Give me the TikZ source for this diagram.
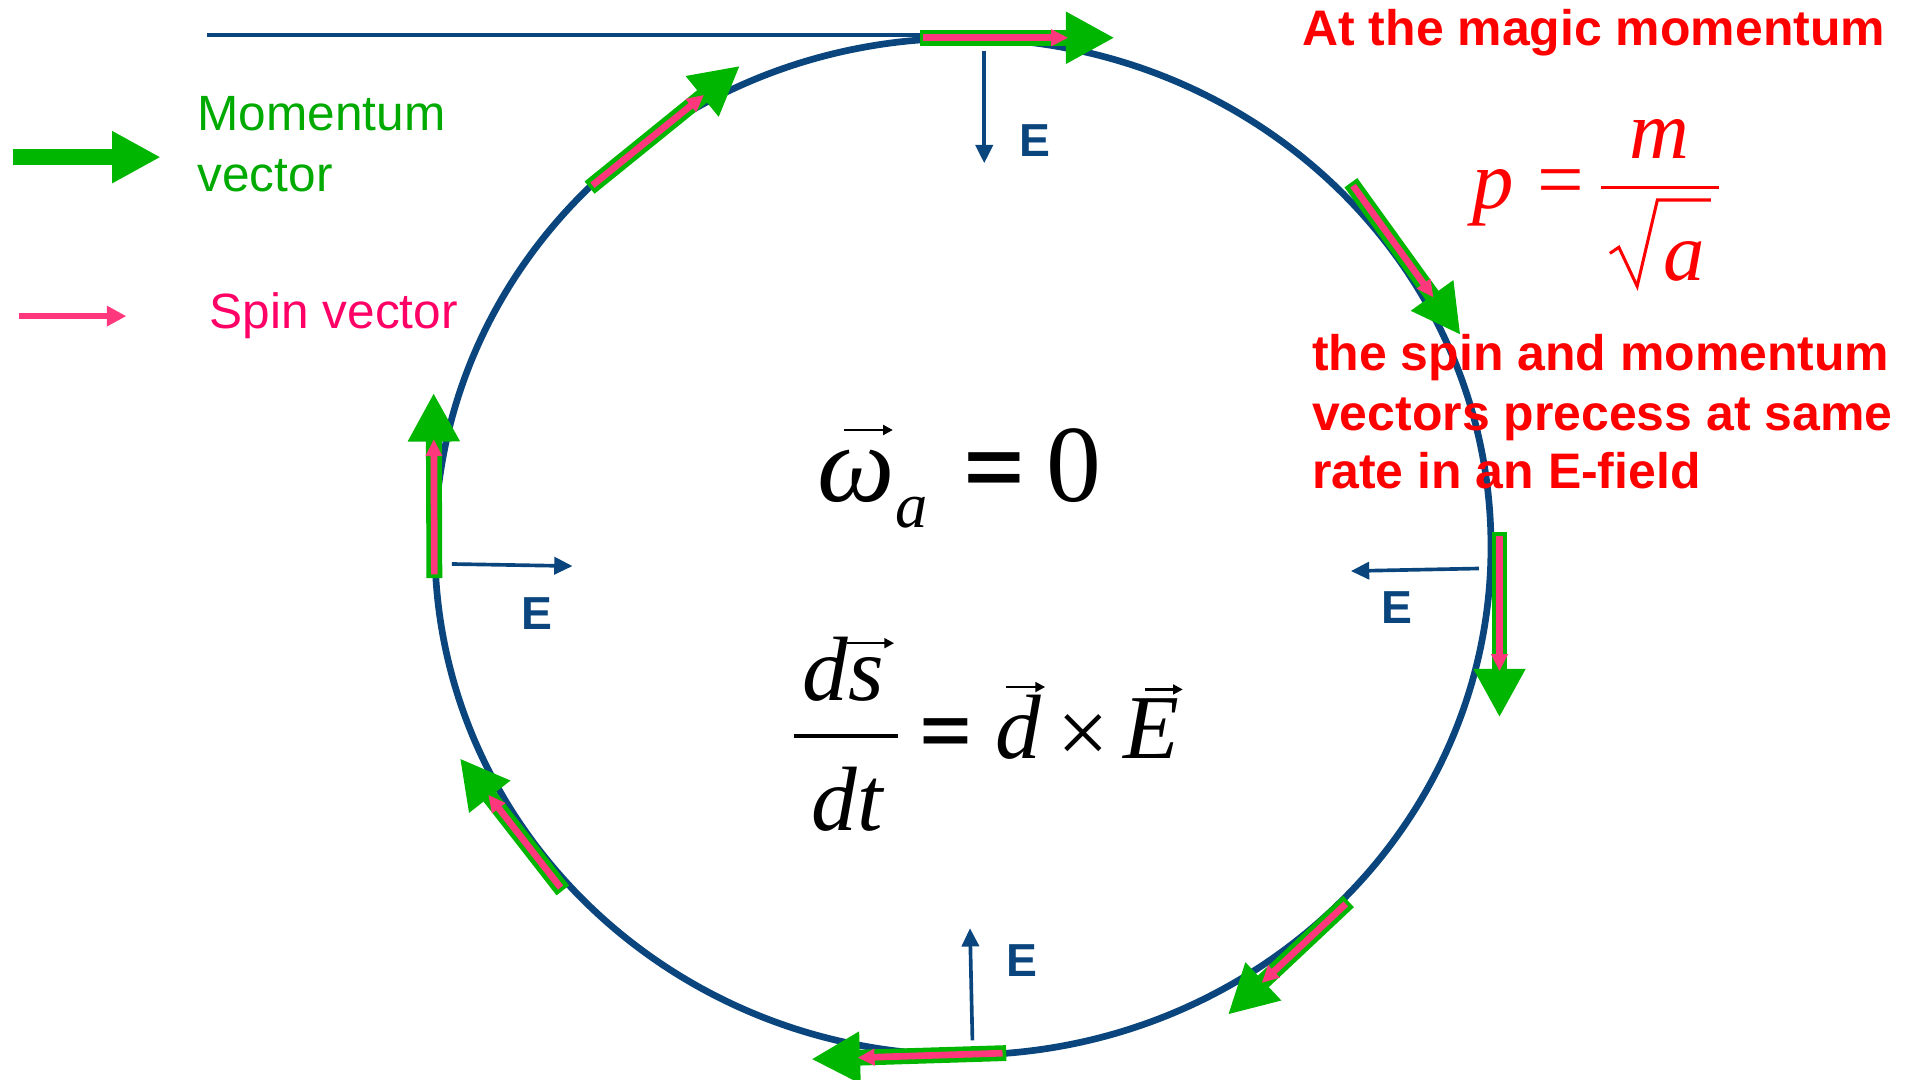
\documentclass[tikz,border=0pt]{standalone}
\usepackage{fontspec}
\usepackage{graphicx}
\setmainfont{Liberation Sans}
\newfontfamily\tnr{Liberation Serif}
\usetikzlibrary{arrows.meta,calc}
\definecolor{ringblue}{RGB}{10,70,125}
\definecolor{momgreen}{RGB}{0,182,0}
\definecolor{txtgreen}{RGB}{0,170,0}
\definecolor{spinpink}{RGB}{255,55,125}
\definecolor{spintxt}{RGB}{255,0,102}
\definecolor{hired}{RGB}{255,0,0}
\newcommand\momvec[2]{%
  \draw[momarrow] (#1) -- (#2);
  \draw[spinarrow] ($(#1)!3pt!(#2)$) -- ($(#2)!38pt!(#1)$);
}
\begin{document}
\begin{tikzpicture}[x=1pt,y=-1pt,
  momarrow/.style={draw=momgreen, line width=13pt, -{Triangle[length=40pt,width=40pt]}},
  spinarrow/.style={draw=spinpink, line width=5.5pt, -{Triangle[length=14pt,width=13pt]}},
  efield/.style={draw=ringblue, line width=3pt, -{Triangle[length=15pt,width=14pt]}},
  elabel/.style={font=\fontsize{38}{40}\selectfont\bfseries, text=ringblue, inner sep=0pt},
  legtxt/.style={font=\fontsize{40.7}{48}\selectfont, inner sep=0pt, anchor=base west},
  redtxt/.style={font=\fontsize{41}{48}\selectfont\bfseries, text=hired, inner sep=0pt, anchor=base west},
  rmath/.style={font=\fontsize{68}{70}\selectfont\tnr\itshape, text=hired, inner sep=0pt, anchor=base},
  bmath/.style={font=\fontsize{75}{78}\selectfont\tnr\itshape, inner sep=0pt, anchor=base},
  vecarrow/.style={draw=black, line width=2pt, -{Triangle[length=8pt,width=8pt]}},
  boldeq/.style={font=\fontsize{66}{68}\selectfont\bfseries, inner sep=0pt}
]
\useasboundingbox (0,0) rectangle (1568,886);

% ring and top line
\coordinate (ringc) at (790.5,448.75);
\draw[ringblue, line width=5.5pt] (ringc) ellipse [x radius=433.5, y radius=417.3];
\coordinate (hl1) at (170,29);
\coordinate (hl2) at (760,29);
\draw[ringblue, line width=3pt] (hl1) -- (hl2);

% E field arrows
\coordinate (et1) at (808,42); \coordinate (et2) at (808,134);
\coordinate (el1) at (371,463); \coordinate (el2) at (470,464.7);
\coordinate (er1) at (1214,466.7); \coordinate (er2) at (1109,468.8);
\coordinate (eb1) at (798.3,854); \coordinate (eb2) at (796.3,762);
\draw[efield] (et1) -- (et2);
\draw[efield] (el1) -- (el2);
\draw[efield] (er1) -- (er2);
\draw[efield] (eb1) -- (eb2);
\node[elabel] (Et) at (849.5,115.5) {E};
\node[elabel] (El) at (441,503.5) {E};
\node[elabel] (Er) at (1146.6,499) {E};
\node[elabel] (Eb) at (838.8,788.5) {E};

% momentum / spin vectors around the ring
\coordinate (mt1) at (755,31);   \coordinate (mt2) at (915,31);
\coordinate (mur1) at (1109,150); \coordinate (mur2) at (1199,275);
\coordinate (mr1) at (1231,437);  \coordinate (mr2) at (1231,589);
\coordinate (mlr1) at (1107,740); \coordinate (mlr2) at (1008,833);
\coordinate (mb1) at (826,864.5); \coordinate (mb2) at (666,869.5);
\coordinate (mll1) at (462,731);  \coordinate (mll2) at (377.5,622.5);
\coordinate (ml1) at (356.6,474.6); \coordinate (ml2) at (356,322.5);
\coordinate (mul1) at (484,154);  \coordinate (mul2) at (607.5,54);
\momvec{mt1}{mt2}
\momvec{mur1}{mur2}
\momvec{mr1}{mr2}
\momvec{mlr1}{mlr2}
\momvec{mb1}{mb2}
\momvec{mll1}{mll2}
\momvec{ml1}{ml2}
\momvec{mul1}{mul2}

% legend
\coordinate (lg1) at (10.5,129); \coordinate (lg2) at (132,129);
\draw[momarrow] (lg1) -- (lg2);
\coordinate (ls1) at (15.7,259.5); \coordinate (ls2) at (103.7,259.5);
\draw[draw=spinpink, line width=5pt, -{Triangle[length=16pt,width=16pt]}] (ls1) -- (ls2);
\node[legtxt, text=txtgreen] (mom1) at (162,107) {Momentum};
\node[legtxt, text=txtgreen] (mom2) at (162,157) {vector};
\node[legtxt, text=spintxt] (spn) at (172,269.5) {Spin vector};

% red texts
\node[redtxt] (r0) at (1069,37) {At the magic momentum};
\node[redtxt] (r1) at (1077,304) {the spin and momentum};
\node[redtxt] (r2) at (1077,353) {vectors precess at same};
\node[redtxt] (r3) at (1077,401) {rate in an E-field};

% p = m / sqrt(a)
\node[rmath] (pp) at (1225.5,171) {p};
\node[font=\fontsize{68}{70}\selectfont\tnr, text=hired, inner sep=0pt] (peq) at (1281.5,155) {=};
\coordinate (pb1) at (1314,154); \coordinate (pb2) at (1411,154);
\draw[hired, line width=3pt] (pb1) -- (pb2);
\node[rmath] (pm) at (1362.5,130) {m};
\coordinate (sq1) at (1321.6,208); \coordinate (sq2) at (1329,203);
\coordinate (sq3) at (1344,235); \coordinate (sq4) at (1360.6,164.2);
\coordinate (sq5) at (1404.5,164.2);
\draw[hired, line width=2.5pt, line join=miter] (sq1) -- (sq2) -- (sq3) -- (sq4) -- (sq5);
\node[rmath] (pa) at (1382.5,230) {a};

% omega_a = 0
\node[font=\fontsize{90}{92}\selectfont\tnr\itshape, inner sep=0pt, anchor=base] (om) at (703,412) {ω};
\coordinate (oa1) at (693,353); \coordinate (oa2) at (733,353);
\draw[vecarrow] (oa1) -- (oa2);
\node[font=\fontsize{53}{55}\selectfont\tnr\itshape, inner sep=0pt, anchor=base] (oas) at (748,433) {a};
\node[boldeq] (oeq) at (816,389) {\scalebox{1.27}[1]{=}};
\node[font=\fontsize{90}{92}\selectfont\tnr, inner sep=0pt, anchor=base] (ozero) at (881.5,412) {0};

% ds/dt = d x E
\node[bmath] (ds) at (692.5,575) {ds};
\coordinate (sa1) at (695,528); \coordinate (sa2) at (734,528);
\draw[vecarrow] (sa1) -- (sa2);
\coordinate (fb1) at (652,604); \coordinate (fb2) at (737,604);
\draw[black, line width=3pt] (fb1) -- (fb2);
\node[bmath] (dt) at (695.5,682) {dt};
\node[font=\fontsize{55}{57}\selectfont\bfseries, inner sep=0pt] (deq) at (776.6,604) {\scalebox{1.3}[1]{=}};
\node[bmath] (dd) at (836,623) {d};
\coordinate (da1) at (826,564); \coordinate (da2) at (858,564);
\draw[vecarrow] (da1) -- (da2);
\node[font=\fontsize{75}{78}\selectfont\tnr, inner sep=0pt] (cross) at (889.5,607) {×};
\node[bmath] (EE) at (945.5,623) {E};
\coordinate (ea1) at (940,566); \coordinate (ea2) at (971,566);
\draw[vecarrow] (ea1) -- (ea2);
\end{tikzpicture}
\end{document}
